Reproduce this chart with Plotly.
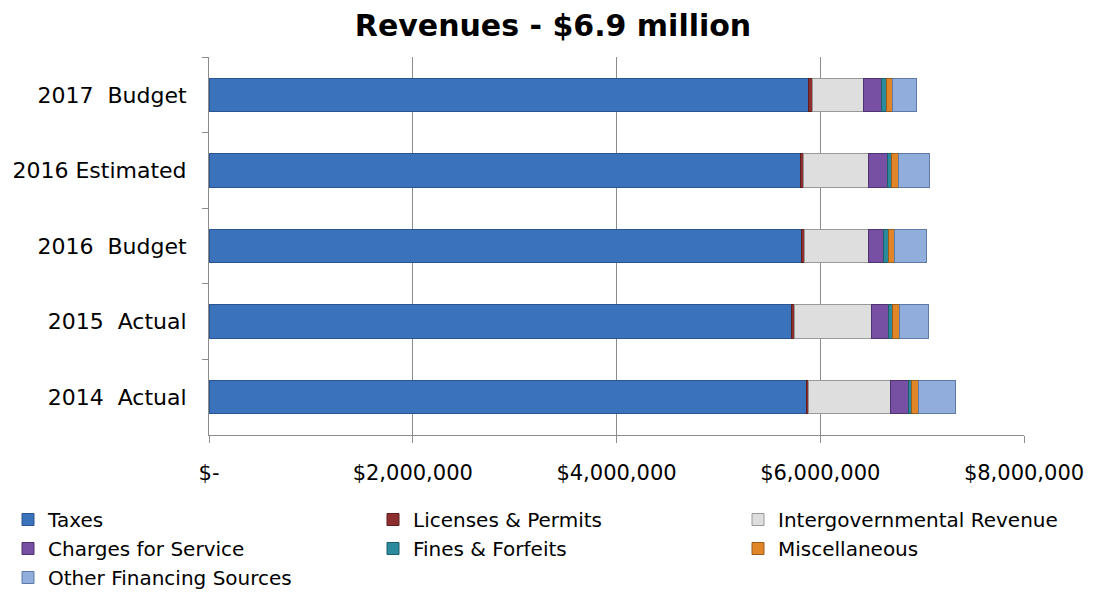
import plotly.graph_objects as go

categories = ["2014\u00a0 Actual", "2015\u00a0 Actual", "2016\u00a0 Budget", "2016 Estimated", "2017\u00a0 Budget"]

series_names = ["Taxes", "Licenses & Permits", "Intergovernmental Revenue",
                "Charges for Service", "Fines & Forfeits", "Miscellaneous",
                "Other Financing Sources"]

taxes        = [5867000, 5717000, 5815000, 5808000, 5884000]
licenses     = [13000,   33000,   33000,   32000,   39000]
intergov     = [813000,  753000,  622000,  629000,  501000]
charges      = [174000,  163000,  151000,  191000,  177000]
fines        = [29000,   46000,   45000,   39000,   45000]
misc         = [65000,   62000,   66000,   72000,   63000]
other_fin    = [364000,  289000,  311000,  298000,  236000]

series_values = [taxes, licenses, intergov, charges, fines, misc, other_fin]

colors = ["#3a72bc", "#8e2f2f", "#dedede", "#7850a3", "#2b8a9c", "#e08628", "#90addc"]
edges  = ["#2a5590", "#5e1e1e", "#9a9a9a", "#4f3270", "#1d5e6a", "#9c5d1c", "#5f7aa6"]

x_tickvals = [0, 2000000, 4000000, 6000000, 8000000]
x_ticktext = ["$-", "$2,000,000", "$4,000,000", "$6,000,000", "$8,000,000"]

FONT = "'DejaVu Sans', sans-serif"
AX = "#8c8c8c"

# the page body has an 8px margin; lay the figure out in page pixels minus it
OFF = 8
W, H = 1114 - OFF, 594 - OFF


def px_x(p):
    return (p - OFF) / W


def px_y(p):
    return 1 - (p - OFF) / H


fig = go.Figure()
for name, vals, c, e in zip(series_names, series_values, colors, edges):
    fig.add_trace(go.Bar(
        y=categories, x=vals, name=name, orientation="h",
        marker=dict(color=c, line=dict(color=e, width=1)),
    ))

fig.update_layout(
    width=W, height=H,
    barmode="stack",
    bargap=0.56,
    plot_bgcolor="white", paper_bgcolor="white",
    margin=dict(l=0, r=0, t=0, b=0, autoexpand=False),
    font=dict(family=FONT, color="#000000", size=20),
    title=dict(text="<b>Revenues - $6.9 million</b>", x=px_x(553), xanchor="center",
               y=px_y(25.5), yanchor="middle", yref="container",
               font=dict(family=FONT, size=30, color="#000000")),
    xaxis=dict(
        domain=[px_x(209), px_x(1024)],
        range=[0, 8000000],
        tickvals=x_tickvals, ticktext=x_ticktext,
        showgrid=True, gridcolor=AX, gridwidth=1,
        showline=True, linecolor=AX, linewidth=1,
        zeroline=False,
        ticks="outside", ticklen=7, tickcolor=AX,
        tickfont=dict(size=21, family=FONT),
        ticklabelstandoff=12,
    ),
    yaxis=dict(
        domain=[px_y(435), px_y(57)],
        type="category",
        tickson="boundaries",
        ticks="outside", ticklen=6, tickcolor=AX,
        showline=True, linecolor=AX, linewidth=1,
        showgrid=False,
        tickfont=dict(size=22, family=FONT),
        ticklabelstandoff=17,
    ),
    legend=dict(
        orientation="h", x=0, xanchor="left", y=px_y(500), yanchor="top",
        traceorder="normal", entrywidth=320, entrywidthmode="pixels",
        font=dict(size=20, family=FONT),
        itemwidth=30, tracegroupgap=0,
    ),
)

fig.write_html("out.html")
